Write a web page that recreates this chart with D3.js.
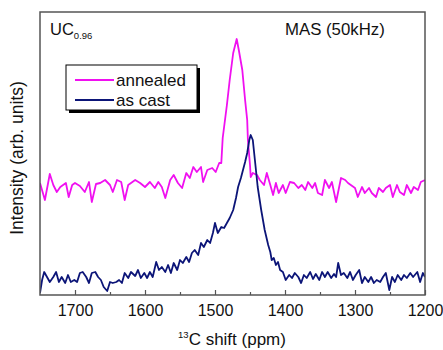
<!DOCTYPE html>
<html>
<head>
<meta charset="utf-8">
<script src="https://cdn.jsdelivr.net/npm/d3@7"></script>
<style>
  html, body { margin: 0; padding: 0; background: #fff; }
  svg { display: block; font-family: "Liberation Sans", Arial, sans-serif; }
</style>
</head>
<body>
<svg id="chart" width="443" height="350"></svg>
<script>
// 13C MAS NMR spectra of UC0.96, annealed vs. as cast
const annealedShift = [1750,1743,1736,1731,1726,1721,1713,1709,1704,1700,1693,1686,1680,1676,1670,1664,1657,1650,1646,1640,1634,1629,1624,1620,1614,1607,1600,1593,1586,1581,1576,1571,1564,1559,1553,1547,1541,1536,1531,1526,1520,1517,1511,1504,1499,1494,1491,1489,1483,1479,1474,1469,1466,1461,1457,1454,1453,1450,1449,1446,1440,1436,1430,1426,1421,1417,1413,1409,1403,1399,1393,1387,1381,1376,1371,1367,1361,1357,1353,1347,1343,1337,1333,1327,1320,1314,1310,1306,1300,1296,1290,1286,1280,1276,1270,1266,1260,1256,1250,1246,1240,1236,1230,1226,1220,1216,1210,1206,1200];
const annealedIntensity = [112,95,121,110,103,108,112,98,110,112,109,103,113,93,111,112,115,110,103,115,113,95,110,112,115,112,108,113,107,113,108,97,115,120,112,107,122,117,128,123,128,113,125,127,123,132,132,157,190,215,242,256,245,225,195,175,155,130,118,122,120,115,110,122,110,100,112,102,110,102,113,112,107,110,105,113,107,112,102,100,115,107,113,93,117,115,112,110,107,98,108,102,107,102,98,107,103,107,110,98,110,103,100,110,102,108,105,113,115];

const castShift = [1750,1747,1744,1740,1736,1731,1727,1723,1719,1714,1710,1706,1701,1697,1693,1689,1684,1680,1676,1671,1667,1663,1659,1654,1650,1646,1641,1637,1633,1629,1624,1620,1614,1610,1606,1601,1597,1593,1589,1584,1580,1576,1571,1567,1563,1559,1554,1550,1546,1541,1537,1533,1529,1524,1520,1516,1511,1507,1503,1500,1496,1491,1487,1483,1479,1474,1470,1467,1463,1460,1457,1454,1451,1449,1446,1443,1439,1434,1431,1429,1424,1421,1419,1416,1413,1410,1407,1403,1399,1394,1390,1386,1381,1377,1373,1369,1364,1360,1356,1351,1347,1343,1339,1334,1330,1327,1324,1320,1316,1311,1307,1303,1299,1294,1290,1286,1281,1277,1273,1269,1264,1260,1256,1251,1247,1243,1239,1234,1230,1226,1221,1217,1211,1207,1203,1200];
const castIntensity = [2,15,23,18,13,18,23,13,18,12,20,13,15,13,22,23,18,12,22,23,18,15,8,4,13,12,13,15,12,22,17,23,19,25,17,22,17,23,18,33,25,28,23,30,22,32,25,35,32,38,33,42,45,40,52,48,55,52,62,72,62,68,67,72,77,85,97,108,117,125,133,142,155,160,155,135,108,85,73,65,50,43,35,37,30,33,25,23,15,20,17,22,18,12,20,17,23,16,21,15,23,18,23,17,21,18,32,20,22,17,23,15,20,25,12,18,13,18,12,15,13,18,22,5,18,13,20,15,20,17,22,18,23,13,22,18];

const majorTicks = [1700, 1600, 1500, 1400, 1300, 1200];
const minorTicks = [1650, 1550, 1450, 1350, 1250];

const seriesNames = ["annealed", "as cast"];
const seriesColors = ["#f010f0", "#0c1578"];

const svg = d3.select("#chart");
const plot = { left: 40, right: 425, top: 12, bottom: 295 };

const x = d3.scaleLinear().domain([1750, 1200]).range([plot.left, plot.right]);
const y = d3.scaleLinear().domain([0, 283]).range([plot.bottom, plot.top]);

const line = d3.line().x(d => x(d[0])).y(d => y(d[1]));

svg.append("defs").append("clipPath").attr("id", "plotClip")
  .append("rect")
  .attr("x", plot.left).attr("y", plot.top)
  .attr("width", plot.right - plot.left).attr("height", plot.bottom - plot.top);

const traces = [
  d3.zip(annealedShift, annealedIntensity),
  d3.zip(castShift, castIntensity)
];

const g = svg.append("g").attr("clip-path", "url(#plotClip)");
traces.forEach((pts, i) => {
  g.append("path")
    .datum(pts)
    .attr("fill", "none")
    .attr("stroke", seriesColors[i])
    .attr("stroke-width", 1.8)
    .attr("stroke-linejoin", "round")
    .attr("d", line);
});

// frame
svg.append("rect")
  .attr("x", plot.left).attr("y", plot.top)
  .attr("width", plot.right - plot.left).attr("height", plot.bottom - plot.top)
  .attr("fill", "none").attr("stroke", "#555").attr("stroke-width", 1.5);

// bottom axis: inward ticks
const xAxis = d3.axisBottom(x).tickValues(majorTicks).tickFormat(d3.format("d"))
  .tickSizeInner(-5).tickSizeOuter(0).tickPadding(10);
const ax = svg.append("g").attr("transform", `translate(0,${plot.bottom})`).call(xAxis);
ax.select(".domain").remove();
ax.selectAll(".tick line").attr("stroke", "#555").attr("stroke-width", 1.2);
ax.selectAll(".tick text")
  .attr("font-size", 16).attr("fill", "#111")
  .attr("font-family", "'Liberation Sans', Arial, sans-serif");

const minorAxis = d3.axisBottom(x).tickValues(minorTicks).tickSizeInner(-3).tickSizeOuter(0).tickFormat("");
const mx = svg.append("g").attr("transform", `translate(0,${plot.bottom})`).call(minorAxis);
mx.select(".domain").remove();
mx.selectAll(".tick line").attr("stroke", "#555").attr("stroke-width", 1.2);

// axis titles
const xt = svg.append("text")
  .attr("x", 232).attr("y", 345)
  .attr("text-anchor", "middle").attr("font-size", 17).attr("fill", "#111");
xt.append("tspan").attr("font-size", 9.5).attr("dy", -7).text("13");
xt.append("tspan").attr("dy", 7).text("C  shift (ppm)");

svg.append("text")
  .attr("transform", "translate(23,158) rotate(-90)")
  .attr("text-anchor", "middle").attr("font-size", 17.5).attr("fill", "#111")
  .text("Intensity (arb. units)");

// annotations
const uc = svg.append("text").attr("x", 50).attr("y", 35).attr("font-size", 16.5).attr("fill", "#111");
uc.append("tspan").text("UC");
uc.append("tspan").attr("font-size", 9.5).attr("dy", 4).text("0.96");

svg.append("text").attr("x", 285).attr("y", 35).attr("font-size", 16.8).attr("fill", "#111")
  .text("MAS (50kHz)");

// legend
const lg = svg.append("g");
lg.append("rect").attr("x", 69).attr("y", 68).attr("width", 131).attr("height", 45).attr("fill", "#000");
lg.append("rect").attr("x", 66).attr("y", 65).attr("width", 131).attr("height", 45)
  .attr("fill", "#fff").attr("stroke", "#000").attr("stroke-width", 1);
seriesNames.forEach((name, i) => {
  const yy = 80 + i * 20;
  lg.append("line").attr("x1", 75).attr("x2", 114).attr("y1", yy).attr("y2", yy)
    .attr("stroke", seriesColors[i]).attr("stroke-width", 1.8);
  lg.append("text").attr("x", 116).attr("y", yy + 6).attr("font-size", 17).attr("fill", "#111").text(name);
});
</script>
</body>
</html>
